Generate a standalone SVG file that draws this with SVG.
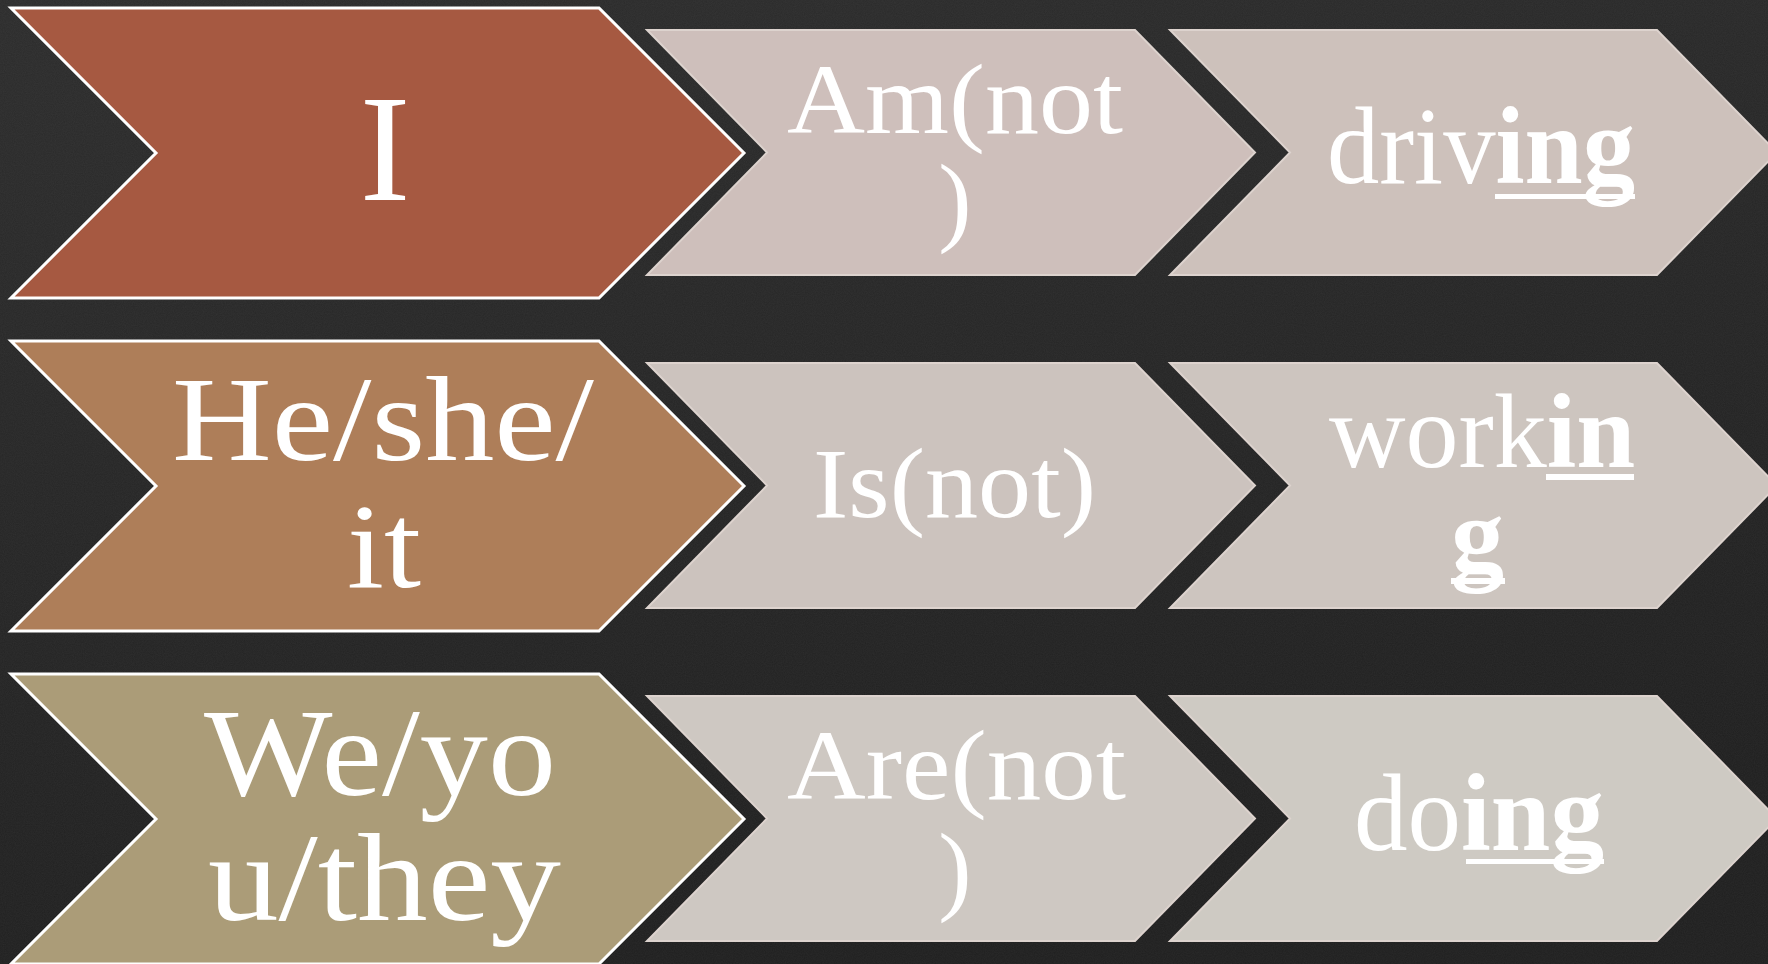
<svg xmlns="http://www.w3.org/2000/svg" width="1768" height="964" viewBox="0 0 1768 964">
  <defs>
    <linearGradient id="bg" x1="0" y1="0" x2="0.3" y2="1">
      <stop offset="0" stop-color="#2c2c2c"/>
      <stop offset="1" stop-color="#1f1f1f"/>
    </linearGradient>
    <filter id="noise" x="0" y="0" width="100%" height="100%">
      <feTurbulence type="fractalNoise" baseFrequency="0.9" numOctaves="2" seed="3"/>
      <feColorMatrix type="matrix" values="0 0 0 0 1  0 0 0 0 1  0 0 0 0 1  0 0 0 0.05 0"/>
    </filter>
    <style>
      .lead { stroke: #ffffff; stroke-width: 3; stroke-linejoin: miter; }
      .step { stroke: #ddd3ce; stroke-width: 2; stroke-linejoin: miter; }
      .t { font-family: "Liberation Serif", "DejaVu Serif", serif; fill: #ffffff; }
      .b { font-weight: bold; }
      .ul { fill: #ffffff; }
    </style>
  </defs>

  <rect width="1768" height="964" fill="url(#bg)"/>
  <rect width="1768" height="964" filter="url(#noise)"/>

  <g id="connectors"/>

  <!-- Row 1 -->
  <g id="node-i">
    <polygon class="lead" fill="#a65941" points="11,8 599,8 744,153 599,298 11,298 156,153"/>
    <text class="t" x="385" y="200" font-size="152" text-anchor="middle">I</text>
  </g>
  <g id="node-am-not">
    <polygon class="step" fill="#cebfbb" points="647,30 1135,30 1255,152.5 1135,275 647,275 767,152.5"/>
    <text class="t" x="787" y="133" font-size="100" textLength="336" lengthAdjust="spacingAndGlyphs">Am(not</text>
    <text class="t" x="955" y="233" font-size="100" text-anchor="middle">)</text>
  </g>
  <g id="node-driving">
    <polygon class="step" fill="#cdc1bb" points="1170,30 1657,30 1777,152.5 1657,275 1170,275 1290,152.5"/>
    <text class="t" x="1327" y="183" font-size="110" textLength="308" lengthAdjust="spacingAndGlyphs">driv<tspan class="b">ing</tspan></text>
    <rect class="ul" x="1495" y="194" width="140" height="5"/>
  </g>

  <!-- Row 2 -->
  <g id="node-he-she-it">
    <polygon class="lead" fill="#ae7e59" points="11,341 599,341 744,486 599,631 11,631 156,486"/>
    <text class="t" x="172" y="460" font-size="121" textLength="422" lengthAdjust="spacingAndGlyphs">He/she/</text>
    <text class="t" x="347" y="587" font-size="121" textLength="74" lengthAdjust="spacingAndGlyphs">it</text>
  </g>
  <g id="node-is-not">
    <polygon class="step" fill="#ccc3be" points="647,363 1135,363 1255,485.5 1135,608 647,608 767,485.5"/>
    <text class="t" x="813" y="517" font-size="100" textLength="283" lengthAdjust="spacingAndGlyphs">Is(not)</text>
  </g>
  <g id="node-working">
    <polygon class="step" fill="#cdc5bf" points="1170,363 1657,363 1777,485.5 1657,608 1170,608 1290,485.5"/>
    <text class="t" font-size="106"><tspan x="1329" y="467">work<tspan class="b">in</tspan></tspan><tspan class="b" x="1451" y="571">g</tspan></text>
    <rect class="ul" x="1546" y="474" width="88" height="6"/>
    <rect class="ul" x="1451" y="578" width="54" height="6"/>
  </g>

  <!-- Row 3 -->
  <g id="node-we-you-they">
    <polygon class="lead" fill="#ab9c78" points="11,674 599,674 744,819 599,964 11,964 156,819"/>
    <text class="t" x="204" y="795" font-size="125" textLength="352" lengthAdjust="spacingAndGlyphs">We/yo</text>
    <text class="t" x="208" y="920" font-size="125" textLength="353" lengthAdjust="spacingAndGlyphs">u/they</text>
  </g>
  <g id="node-are-not">
    <polygon class="step" fill="#cec8c2" points="647,696 1135,696 1255,818.5 1135,941 647,941 767,818.5"/>
    <text class="t" x="787" y="799" font-size="100" textLength="339" lengthAdjust="spacingAndGlyphs">Are(not</text>
    <text class="t" x="955" y="902" font-size="100" text-anchor="middle">)</text>
  </g>
  <g id="node-doing">
    <polygon class="step" fill="#cecac3" points="1170,696 1657,696 1777,818.5 1657,941 1170,941 1290,818.5"/>
    <text class="t" x="1354" y="850" font-size="110" textLength="250" lengthAdjust="spacingAndGlyphs">do<tspan class="b">ing</tspan></text>
    <rect class="ul" x="1466" y="859" width="138" height="5"/>
  </g>
</svg>
